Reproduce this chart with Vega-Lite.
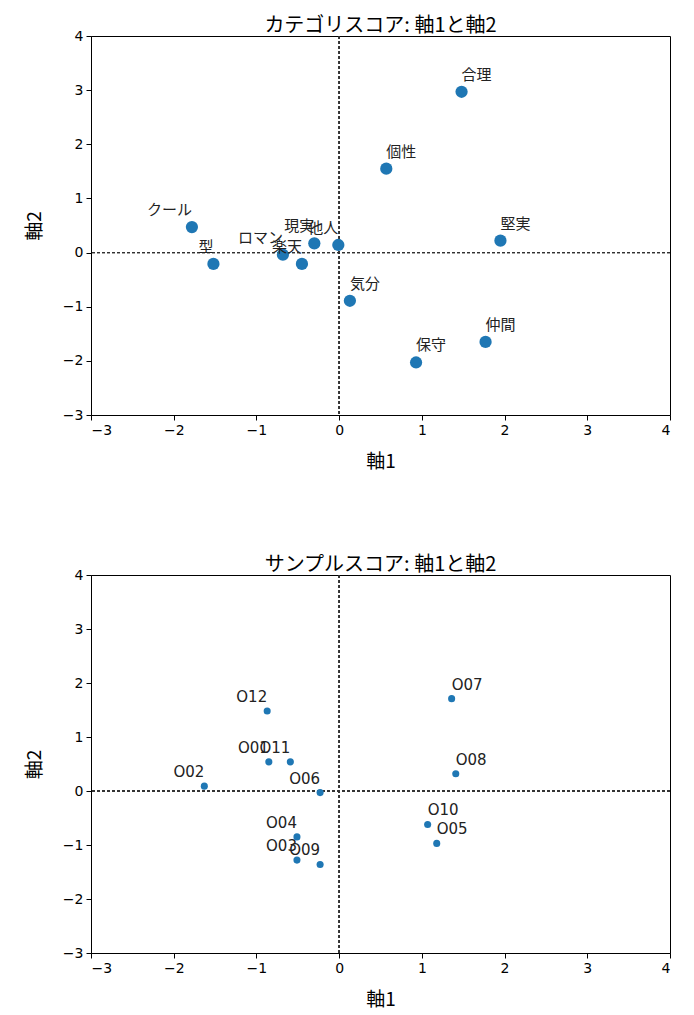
{
  "$schema": "https://vega.github.io/schema/vega-lite/v6.json",
  "padding": {"left": 24, "top": 15, "right": 10, "bottom": 5},
  "spacing": 82,
  "config": {
    "font": "Noto Sans CJK JP",
    "view": {"stroke": "black", "strokeWidth": 1},
    "title": {"fontSize": 20, "fontWeight": "normal", "color": "black", "offset": -7, "anchor": "middle"},
    "axis": {
      "grid": false,
      "domainColor": "black",
      "tickColor": "black",
      "labelColor": "black",
      "titleColor": "black",
      "tickSize": 5,
      "labelPadding": 3,
      "labelFont": "DejaVu Sans",
      "labelFontSize": 14,
      "titleFontSize": 19,
      "titleFontWeight": "normal"
    },
    "axisX": {"titlePadding": 15},
    "axisY": {"titlePadding": 18}
  },
  "datasets": {
    "cat": [
      {"label": "合理", "axis1": 1.48, "axis2": 2.97},
      {"label": "個性", "axis1": 0.57, "axis2": 1.55},
      {"label": "堅実", "axis1": 1.95, "axis2": 0.22},
      {"label": "仲間", "axis1": 1.77, "axis2": -1.65},
      {"label": "保守", "axis1": 0.93, "axis2": -2.03},
      {"label": "気分", "axis1": 0.13, "axis2": -0.89},
      {"label": "クール", "axis1": -1.78, "axis2": 0.47},
      {"label": "型", "axis1": -1.52, "axis2": -0.21},
      {"label": "ロマン", "axis1": -0.68, "axis2": -0.04},
      {"label": "楽天", "axis1": -0.45, "axis2": -0.21},
      {"label": "現実", "axis1": -0.30, "axis2": 0.17},
      {"label": "他人", "axis1": -0.01, "axis2": 0.14}
    ],
    "sample": [
      {"label": "O01", "axis1": -0.85, "axis2": 0.54},
      {"label": "O02", "axis1": -1.63, "axis2": 0.09},
      {"label": "O03", "axis1": -0.51, "axis2": -1.28},
      {"label": "O04", "axis1": -0.51, "axis2": -0.85},
      {"label": "O05", "axis1": 1.18, "axis2": -0.97},
      {"label": "O06", "axis1": -0.23, "axis2": -0.03},
      {"label": "O07", "axis1": 1.36, "axis2": 1.71},
      {"label": "O08", "axis1": 1.41, "axis2": 0.32},
      {"label": "O09", "axis1": -0.23, "axis2": -1.36},
      {"label": "O10", "axis1": 1.07, "axis2": -0.62},
      {"label": "O11", "axis1": -0.59, "axis2": 0.54},
      {"label": "O12", "axis1": -0.87, "axis2": 1.48}
    ]
  },
  "vconcat": [
    {
      "title": "カテゴリスコア: 軸1と軸2",
      "width": 579,
      "height": 379,
      "data": {"name": "cat"},
      "encoding": {
        "x": {"field": "axis1", "type": "quantitative", "title": "軸1",
              "scale": {"domain": [-3, 4], "nice": false},
              "axis": {"values": [-3, -2, -1, 0, 1, 2, 3, 4]}},
        "y": {"field": "axis2", "type": "quantitative", "title": "軸2",
              "scale": {"domain": [-3, 4], "nice": false},
              "axis": {"values": [-3, -2, -1, 0, 1, 2, 3, 4]}}
      },
      "layer": [
        {"mark": {"type": "rule", "color": "#333333", "strokeWidth": 0.6, "strokeDash": [3, 2]},
         "encoding": {"x": {"datum": 0, "type": "quantitative"}, "y": null}},
        {"mark": {"type": "rule", "color": "#333333", "strokeWidth": 0.6, "strokeDash": [3, 2]},
         "encoding": {"y": {"datum": 0, "type": "quantitative"}, "x": null}},
        {"mark": {"type": "circle", "size": 150, "color": "#1f77b4", "opacity": 1}},
        {"transform": [{"filter": "datum.axis1 >= 0"}],
         "mark": {"type": "text", "align": "left", "baseline": "bottom", "dy": -9, "fontSize": 15, "color": "#222222"},
         "encoding": {"text": {"field": "label"}}},
        {"transform": [{"filter": "datum.axis1 < 0"}],
         "mark": {"type": "text", "align": "right", "baseline": "bottom", "dy": -9, "fontSize": 15, "color": "#222222"},
         "encoding": {"text": {"field": "label"}}}
      ]
    },
    {
      "title": "サンプルスコア: 軸1と軸2",
      "width": 579,
      "height": 378,
      "data": {"name": "sample"},
      "encoding": {
        "x": {"field": "axis1", "type": "quantitative", "title": "軸1",
              "scale": {"domain": [-3, 4], "nice": false},
              "axis": {"values": [-3, -2, -1, 0, 1, 2, 3, 4]}},
        "y": {"field": "axis2", "type": "quantitative", "title": "軸2",
              "scale": {"domain": [-3, 4], "nice": false},
              "axis": {"values": [-3, -2, -1, 0, 1, 2, 3, 4]}}
      },
      "layer": [
        {"mark": {"type": "rule", "color": "#333333", "strokeWidth": 0.6, "strokeDash": [3, 2]},
         "encoding": {"x": {"datum": 0, "type": "quantitative"}, "y": null}},
        {"mark": {"type": "rule", "color": "#333333", "strokeWidth": 0.6, "strokeDash": [3, 2]},
         "encoding": {"y": {"datum": 0, "type": "quantitative"}, "x": null}},
        {"mark": {"type": "circle", "size": 50, "color": "#1f77b4", "opacity": 1}},
        {"transform": [{"filter": "datum.axis1 >= 0"}],
         "mark": {"type": "text", "align": "left", "baseline": "bottom", "dy": -6, "fontSize": 15, "font": "DejaVu Sans", "color": "#222222"},
         "encoding": {"text": {"field": "label"}}},
        {"transform": [{"filter": "datum.axis1 < 0"}],
         "mark": {"type": "text", "align": "right", "baseline": "bottom", "dy": -6, "fontSize": 15, "font": "DejaVu Sans", "color": "#222222"},
         "encoding": {"text": {"field": "label"}}}
      ]
    }
  ]
}
